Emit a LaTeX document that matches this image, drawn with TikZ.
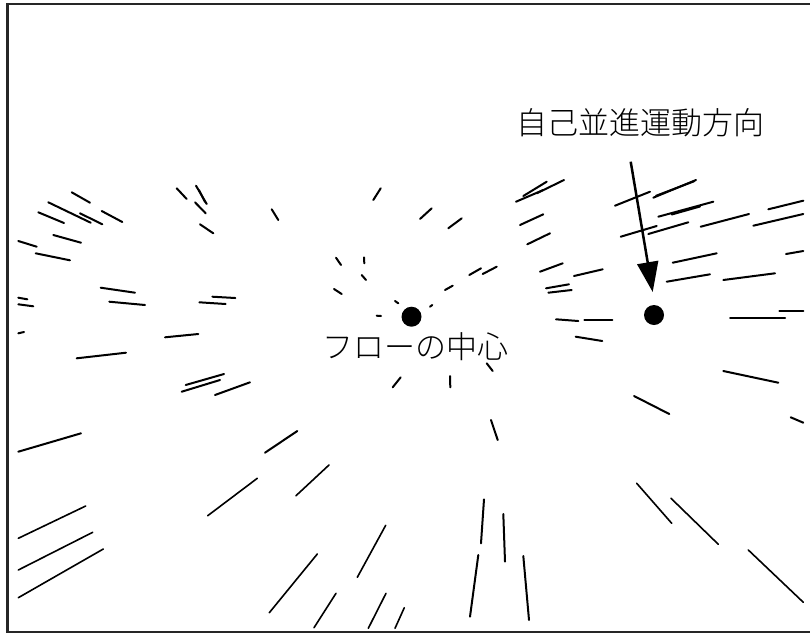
\documentclass[tikz,border=0pt]{standalone}
\usepackage{fontspec}
\newfontfamily\cjk{Noto Sans CJK JP}[UprightFont=* Light]
\usetikzlibrary{arrows.meta}
\tikzset{
  seg/.style={line width=2pt, line cap=round, black},
  thinseg/.style={line width=1.6pt, line cap=round, black},
  frameline/.style={line width=2.6pt, black!85},
  flowdot/.style={circle, fill=black, inner sep=0pt, minimum size=20pt},
  jlabel/.style={font=\cjk\fontsize{31}{34}\selectfont, inner sep=0pt}
}
\begin{document}
\begin{tikzpicture}[x=1pt,y=-1pt]
\useasboundingbox (0,0) rectangle (810,635);
% frame
\draw[frameline] (7.5,632) -- (7.5,3.8) -- (810,3.8);
\draw[frameline] (6.2,632) -- (810,632);

% dots and labels
\node[flowdot] (fc) at (411.5,316.7) {};
\node[flowdot] (md) at (654,315) {};
\node[jlabel] (fcl) at (415,347) {フローの中心};
\node[jlabel] (mdl) at (640,123) {自己並進運動方向};
\coordinate (astart) at (630.7,161.7);
\coordinate (aend) at (652.7,292);
\draw[line width=2.5pt, -{Triangle[length=30pt,width=21pt]}] (astart) -- (aend);

% upper-left cluster
\draw[seg] (71.7,192.3) -- (90,202.7);
\draw[seg] (48.3,202.3) -- (90.7,222.7);
\draw[seg] (80,213.3) -- (102.3,224.3);
\draw[seg] (101.7,211) -- (122.3,222);
\draw[seg] (38.3,212.3) -- (64,223);
\draw[seg] (53.3,235) -- (81,242.7);
\draw[seg] (18.3,241) -- (36.7,246.7);
\draw[seg] (35.7,253.3) -- (70,260.3);
\draw[seg] (176.7,188.3) -- (186.7,199);
\draw[seg] (196,185.7) -- (206.7,204);
\draw[seg] (199,190) -- (205,202);
\draw[seg] (195,202.3) -- (205.7,213.3);
\draw[seg] (200,224.3) -- (213.3,233.3);
\draw[seg] (100.7,287.7) -- (135,292.7);
\draw[seg] (109.3,301.7) -- (145,305);
\draw[seg] (18.3,297.7) -- (27.3,299.3);
\draw[seg] (18.3,304.3) -- (33.3,306.3);
\draw[seg] (212.3,296.7) -- (235.3,298);
\draw[seg] (199.3,302.3) -- (225.7,304);

% upper-centre
\draw[seg] (271.7,209.3) -- (278.3,220);
\draw[seg] (380.7,188.3) -- (373.3,200);
\draw[seg] (431.7,208.3) -- (420,219);
\draw[seg] (461.7,218.3) -- (448.3,228.3);
\draw[seg] (336,257.7) -- (341,265);
\draw[seg] (364,257.3) -- (364.3,263.3);
\draw[seg] (361.7,275) -- (366,280);
\draw[seg] (334,289) -- (341.7,294);
\draw[seg] (395,301) -- (398.3,303.3);
\draw[seg] (430,306.7) -- (432.3,305);
\draw[seg] (376.7,315.7) -- (381,316);
\draw[seg] (445,290) -- (452.7,285.7);
\draw[seg] (469.3,275) -- (481,268.3);
\draw[seg] (482.7,274) -- (496.7,266.7);

% upper-right cluster
\draw[seg] (516,201.7) -- (543.3,190);
\draw[seg] (523.3,196) -- (546.7,181.7);
\draw[seg] (536.7,193.3) -- (564,180);
\draw[seg] (520,225) -- (543.3,214.3);
\draw[seg] (527.3,244.3) -- (550,233.3);
\draw[seg] (540,271.7) -- (562.7,263.3);
\draw[seg] (574,276) -- (602.7,269.3);
\draw[seg] (546,288.3) -- (569,284.3);
\draw[seg] (548.3,292.7) -- (571.7,290);
\draw[seg] (615,205.7) -- (650,191.7);
\draw[seg] (653.3,197.7) -- (696,180);
\draw[seg] (656,195.8) -- (694,181.3);
\draw[seg] (658.3,216.7) -- (713.3,201.7);
\draw[seg] (671.7,214.5) -- (700,206.5);
\draw[seg] (620.7,236.7) -- (656.7,226);
\draw[seg] (648.3,234) -- (688.3,222.3);
\draw[seg] (700.7,226.7) -- (749,214);
\draw[seg] (768.3,209.3) -- (803.3,200.7);
\draw[seg] (753.3,225.7) -- (803.3,214);
\draw[seg] (672.7,262.7) -- (716.7,253.3);
\draw[seg] (666.7,281.7) -- (710,274.3);
\draw[seg] (723.3,280) -- (775,273.3);
\draw[seg] (786,254) -- (803.3,251);
\draw[seg] (730,318.3) -- (785,318.3);
\draw[seg] (779.3,311) -- (803.3,311);

% middle right
\draw[seg] (556,319.3) -- (578.3,321);
\draw[seg] (584.3,320) -- (612.3,320);
\draw[seg] (575.7,336.7) -- (602.3,341);
\draw[seg] (634,396) -- (669.3,414);
\draw[seg] (723.3,371) -- (778.3,382.7);
\draw[seg] (790.7,417.3) -- (803.3,422.7);

% middle left
\draw[seg] (18.3,333.3) -- (24,332);
\draw[seg] (76.7,358.3) -- (126,352.7);
\draw[seg] (165,337.3) -- (198.3,334);
\draw[seg] (185.7,385) -- (224,374);
\draw[seg] (181.7,391.7) -- (220,380);
\draw[seg] (215,395) -- (250,382.3);
\draw[seg] (18.3,451.7) -- (81,433.3);

% around centre, below
\draw[seg] (392.7,387.3) -- (400.7,377.3);
\draw[seg] (450,376) -- (450.3,387.3);
\draw[seg] (486.7,363.3) -- (492.7,371);
\draw[seg] (491,420) -- (497.7,440);
\draw[seg] (265,452.7) -- (297.3,431);

% lower left
\draw[thinseg] (207.7,515.7) -- (257.3,478.3);
\draw[thinseg] (18.3,538.3) -- (85.7,506);
\draw[thinseg] (18.3,570) -- (92.7,532.3);
\draw[thinseg] (18.3,597.7) -- (103.3,549);

% lower centre
\draw[thinseg] (296,495.7) -- (329,465);
\draw[thinseg] (269.3,612.7) -- (317.3,554);
\draw[thinseg] (357.3,577.3) -- (385.7,525.3);
\draw[thinseg] (314,627.7) -- (336,593.3);
\draw[thinseg] (368.3,628.3) -- (386,593.3);
\draw[thinseg] (395,628.3) -- (404.3,607.7);
\draw[seg] (484,499.3) -- (481,543.3);
\draw[seg] (503.3,514) -- (505,561.7);
\draw[seg] (478.3,555) -- (470,616.7);
\draw[seg] (523.3,556) -- (529,620);

% lower right
\draw[thinseg] (636.7,483.3) -- (671.7,523.3);
\draw[thinseg] (671,498.3) -- (718.3,544.3);
\draw[thinseg] (748.3,550) -- (803.3,602.3);
\end{tikzpicture}
\end{document}
